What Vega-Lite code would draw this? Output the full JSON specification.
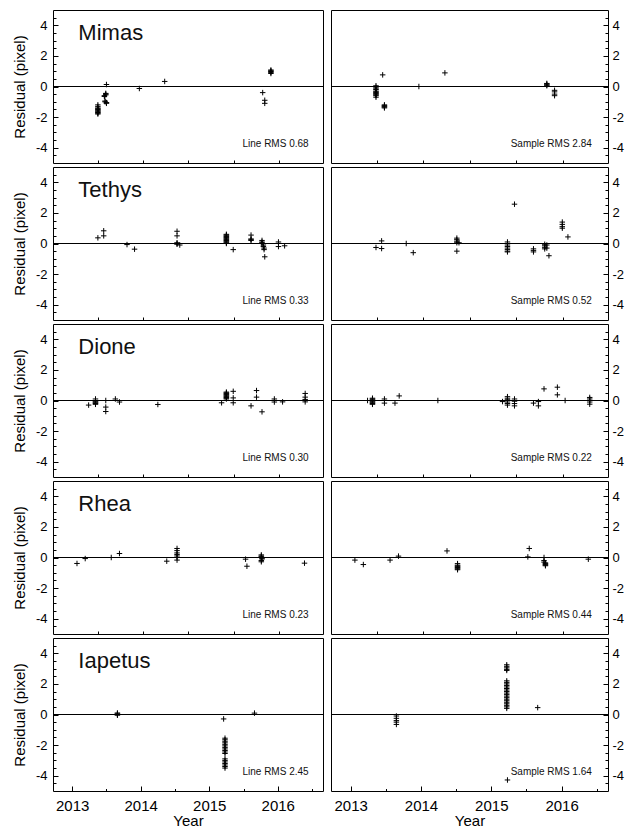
{
"$schema": "https://vega.github.io/schema/vega-lite/v6.json",
"padding": {"left": 11, "top": 9, "right": 5, "bottom": 0},
"columns": 2,
"spacing": {"row": 2, "column": 6},
"align": "each",
"datasets": {
"pts": [
{"p":"MiL","x":2013.375,"y":-1.2},{"p":"MiL","x":2013.375,"y":-1.3},{"p":"MiL","x":2013.375,"y":-1.4},{"p":"MiL","x":2013.375,"y":-1.45},{"p":"MiL","x":2013.375,"y":-1.5},{"p":"MiL","x":2013.375,"y":-1.55},{"p":"MiL","x":2013.375,"y":-1.6},{"p":"MiL","x":2013.375,"y":-1.65},{"p":"MiL","x":2013.375,"y":-1.7},{"p":"MiL","x":2013.375,"y":-1.75},{"p":"MiL","x":2013.375,"y":-1.8},
{"p":"MiL","x":2013.5,"y":0.13},{"p":"MiL","x":2013.47,"y":-0.6},{"p":"MiL","x":2013.47,"y":-0.65},{"p":"MiL","x":2013.49,"y":-0.45},{"p":"MiL","x":2013.49,"y":-0.5},{"p":"MiL","x":2013.49,"y":-0.55},{"p":"MiL","x":2013.48,"y":-0.95},{"p":"MiL","x":2013.48,"y":-1.0},{"p":"MiL","x":2013.5,"y":-1.05},{"p":"MiL","x":2013.5,"y":-1.1},
{"p":"MiL","x":2013.98,"y":-0.13},{"p":"MiL","x":2014.35,"y":0.33},{"p":"MiL","x":2015.78,"y":-0.4},{"p":"MiL","x":2015.81,"y":-0.9},{"p":"MiL","x":2015.81,"y":-1.1},
{"p":"MiL","x":2015.9,"y":0.85},{"p":"MiL","x":2015.9,"y":0.92},{"p":"MiL","x":2015.9,"y":0.98},{"p":"MiL","x":2015.9,"y":1.03},{"p":"MiL","x":2015.9,"y":1.08},

{"p":"MiS","x":2013.36,"y":0.05},{"p":"MiS","x":2013.36,"y":-0.05},{"p":"MiS","x":2013.36,"y":-0.15},{"p":"MiS","x":2013.36,"y":-0.2},{"p":"MiS","x":2013.36,"y":-0.3},{"p":"MiS","x":2013.36,"y":-0.35},{"p":"MiS","x":2013.36,"y":-0.4},{"p":"MiS","x":2013.36,"y":-0.45},{"p":"MiS","x":2013.36,"y":-0.5},{"p":"MiS","x":2013.36,"y":-0.55},{"p":"MiS","x":2013.36,"y":-0.6},{"p":"MiS","x":2013.36,"y":-0.7},
{"p":"MiS","x":2013.455,"y":0.76},{"p":"MiS","x":2013.48,"y":-1.2},{"p":"MiS","x":2013.48,"y":-1.25},{"p":"MiS","x":2013.48,"y":-1.3},{"p":"MiS","x":2013.48,"y":-1.35},{"p":"MiS","x":2013.48,"y":-1.4},
{"p":"MiS","x":2013.97,"y":0},{"p":"MiS","x":2014.34,"y":0.89},{"p":"MiS","x":2015.79,"y":0.05},{"p":"MiS","x":2015.79,"y":0.1},{"p":"MiS","x":2015.79,"y":0.15},{"p":"MiS","x":2015.79,"y":0.2},
{"p":"MiS","x":2015.9,"y":-0.25},{"p":"MiS","x":2015.9,"y":-0.35},{"p":"MiS","x":2015.9,"y":-0.5},{"p":"MiS","x":2015.9,"y":-0.6},

{"p":"TeL","x":2013.375,"y":0.37},{"p":"TeL","x":2013.46,"y":0.83},{"p":"TeL","x":2013.46,"y":0.5},{"p":"TeL","x":2013.8,"y":-0.07},{"p":"TeL","x":2013.91,"y":-0.37},
{"p":"TeL","x":2014.53,"y":0.8},{"p":"TeL","x":2014.53,"y":0.5},{"p":"TeL","x":2014.53,"y":0.05},{"p":"TeL","x":2014.53,"y":0},{"p":"TeL","x":2014.53,"y":-0.05},{"p":"TeL","x":2014.57,"y":-0.1},
{"p":"TeL","x":2015.25,"y":0.6},{"p":"TeL","x":2015.25,"y":0.55},{"p":"TeL","x":2015.25,"y":0.5},{"p":"TeL","x":2015.25,"y":0.45},{"p":"TeL","x":2015.25,"y":0.4},{"p":"TeL","x":2015.25,"y":0.35},{"p":"TeL","x":2015.25,"y":0.3},{"p":"TeL","x":2015.25,"y":0.25},{"p":"TeL","x":2015.25,"y":0.2},{"p":"TeL","x":2015.25,"y":0.15},{"p":"TeL","x":2015.25,"y":0.1},{"p":"TeL","x":2015.25,"y":0.05},{"p":"TeL","x":2015.25,"y":0},
{"p":"TeL","x":2015.35,"y":-0.4},{"p":"TeL","x":2015.61,"y":0.55},{"p":"TeL","x":2015.61,"y":0.3},{"p":"TeL","x":2015.61,"y":0.2},{"p":"TeL","x":2015.61,"y":0.25},
{"p":"TeL","x":2015.77,"y":0.2},{"p":"TeL","x":2015.77,"y":0.1},{"p":"TeL","x":2015.77,"y":0.05},{"p":"TeL","x":2015.77,"y":0},{"p":"TeL","x":2015.79,"y":-0.1},{"p":"TeL","x":2015.79,"y":-0.2},{"p":"TeL","x":2015.8,"y":-0.3},{"p":"TeL","x":2015.8,"y":-0.4},{"p":"TeL","x":2015.81,"y":-0.87},
{"p":"TeL","x":2016.01,"y":0.1},{"p":"TeL","x":2016.01,"y":-0.2},{"p":"TeL","x":2016.1,"y":-0.15},

{"p":"TeS","x":2013.36,"y":-0.26},{"p":"TeS","x":2013.44,"y":0.17},{"p":"TeS","x":2013.44,"y":-0.33},{"p":"TeS","x":2013.79,"y":0},{"p":"TeS","x":2013.89,"y":-0.6},
{"p":"TeS","x":2014.51,"y":0.35},{"p":"TeS","x":2014.51,"y":0.25},{"p":"TeS","x":2014.51,"y":0.15},{"p":"TeS","x":2014.51,"y":0.05},{"p":"TeS","x":2014.51,"y":-0.5},{"p":"TeS","x":2014.54,"y":0.05},
{"p":"TeS","x":2015.23,"y":0.1},{"p":"TeS","x":2015.23,"y":0},{"p":"TeS","x":2015.23,"y":-0.1},{"p":"TeS","x":2015.23,"y":-0.2},{"p":"TeS","x":2015.23,"y":-0.3},{"p":"TeS","x":2015.23,"y":-0.4},{"p":"TeS","x":2015.23,"y":-0.5},{"p":"TeS","x":2015.23,"y":-0.55},
{"p":"TeS","x":2015.33,"y":2.57},{"p":"TeS","x":2015.6,"y":-0.35},{"p":"TeS","x":2015.6,"y":-0.45},{"p":"TeS","x":2015.6,"y":-0.55},
{"p":"TeS","x":2015.76,"y":-0.05},{"p":"TeS","x":2015.76,"y":-0.15},{"p":"TeS","x":2015.76,"y":-0.25},{"p":"TeS","x":2015.76,"y":-0.35},{"p":"TeS","x":2015.79,"y":-0.1},{"p":"TeS","x":2015.79,"y":-0.3},{"p":"TeS","x":2015.82,"y":-0.8},
{"p":"TeS","x":2016.01,"y":1.4},{"p":"TeS","x":2016.01,"y":1.25},{"p":"TeS","x":2016.01,"y":1.1},{"p":"TeS","x":2016.01,"y":1.0},{"p":"TeS","x":2016.09,"y":0.43},

{"p":"DiL","x":2013.24,"y":-0.3},{"p":"DiL","x":2013.34,"y":0.1},{"p":"DiL","x":2013.34,"y":0},{"p":"DiL","x":2013.34,"y":-0.05},{"p":"DiL","x":2013.34,"y":-0.1},{"p":"DiL","x":2013.34,"y":-0.15},{"p":"DiL","x":2013.34,"y":-0.2},{"p":"DiL","x":2013.34,"y":-0.25},
{"p":"DiL","x":2013.49,"y":0},{"p":"DiL","x":2013.49,"y":-0.43},{"p":"DiL","x":2013.49,"y":-0.72},{"p":"DiL","x":2013.63,"y":0.1},{"p":"DiL","x":2013.69,"y":-0.1},{"p":"DiL","x":2014.25,"y":-0.26},{"p":"DiL","x":2015.18,"y":-0.15},
{"p":"DiL","x":2015.25,"y":0.55},{"p":"DiL","x":2015.25,"y":0.5},{"p":"DiL","x":2015.25,"y":0.45},{"p":"DiL","x":2015.25,"y":0.4},{"p":"DiL","x":2015.25,"y":0.35},{"p":"DiL","x":2015.25,"y":0.3},{"p":"DiL","x":2015.25,"y":0.25},{"p":"DiL","x":2015.25,"y":0.2},{"p":"DiL","x":2015.25,"y":0.15},{"p":"DiL","x":2015.25,"y":0.1},
{"p":"DiL","x":2015.35,"y":0.6},{"p":"DiL","x":2015.35,"y":0.17},{"p":"DiL","x":2015.35,"y":-0.15},{"p":"DiL","x":2015.61,"y":-0.35},{"p":"DiL","x":2015.69,"y":0.65},{"p":"DiL","x":2015.69,"y":0.22},{"p":"DiL","x":2015.77,"y":-0.74},
{"p":"DiL","x":2015.95,"y":0.1},{"p":"DiL","x":2015.95,"y":-0.1},{"p":"DiL","x":2016.07,"y":-0.09},{"p":"DiL","x":2016.4,"y":0.46},{"p":"DiL","x":2016.4,"y":0.22},{"p":"DiL","x":2016.4,"y":0.07},{"p":"DiL","x":2016.4,"y":-0.09},

{"p":"DiS","x":2013.24,"y":0},{"p":"DiS","x":2013.31,"y":0.15},{"p":"DiS","x":2013.31,"y":0.1},{"p":"DiS","x":2013.31,"y":0.05},{"p":"DiS","x":2013.31,"y":0},{"p":"DiS","x":2013.31,"y":-0.05},{"p":"DiS","x":2013.31,"y":-0.1},{"p":"DiS","x":2013.31,"y":-0.15},{"p":"DiS","x":2013.31,"y":-0.2},{"p":"DiS","x":2013.31,"y":-0.25},
{"p":"DiS","x":2013.48,"y":0.1},{"p":"DiS","x":2013.48,"y":-0.17},{"p":"DiS","x":2013.63,"y":-0.17},{"p":"DiS","x":2013.69,"y":0.3},{"p":"DiS","x":2014.24,"y":0},{"p":"DiS","x":2015.16,"y":-0.07},
{"p":"DiS","x":2015.23,"y":0.25},{"p":"DiS","x":2015.23,"y":0.15},{"p":"DiS","x":2015.23,"y":0.05},{"p":"DiS","x":2015.23,"y":0},{"p":"DiS","x":2015.23,"y":-0.1},{"p":"DiS","x":2015.23,"y":-0.2},{"p":"DiS","x":2015.23,"y":-0.3},
{"p":"DiS","x":2015.33,"y":0.1},{"p":"DiS","x":2015.33,"y":-0.05},{"p":"DiS","x":2015.33,"y":-0.2},{"p":"DiS","x":2015.33,"y":-0.35},{"p":"DiS","x":2015.6,"y":-0.17},{"p":"DiS","x":2015.67,"y":-0.07},{"p":"DiS","x":2015.67,"y":-0.35},
{"p":"DiS","x":2015.75,"y":0.76},{"p":"DiS","x":2015.94,"y":0.87},{"p":"DiS","x":2015.94,"y":0.37},{"p":"DiS","x":2016.05,"y":0},
{"p":"DiS","x":2016.4,"y":0.2},{"p":"DiS","x":2016.4,"y":0.1},{"p":"DiS","x":2016.4,"y":0},{"p":"DiS","x":2016.4,"y":-0.1},{"p":"DiS","x":2016.4,"y":-0.24},

{"p":"RhL","x":2013.07,"y":-0.39},{"p":"RhL","x":2013.19,"y":-0.07},{"p":"RhL","x":2013.57,"y":0},{"p":"RhL","x":2013.69,"y":0.26},{"p":"RhL","x":2014.38,"y":-0.24},
{"p":"RhL","x":2014.53,"y":0.59},{"p":"RhL","x":2014.53,"y":0.45},{"p":"RhL","x":2014.53,"y":0.3},{"p":"RhL","x":2014.53,"y":0.2},{"p":"RhL","x":2014.53,"y":0.1},{"p":"RhL","x":2014.53,"y":0},{"p":"RhL","x":2014.53,"y":-0.17},
{"p":"RhL","x":2015.53,"y":-0.11},{"p":"RhL","x":2015.55,"y":-0.57},
{"p":"RhL","x":2015.76,"y":0.17},{"p":"RhL","x":2015.76,"y":0.1},{"p":"RhL","x":2015.76,"y":0.05},{"p":"RhL","x":2015.76,"y":0},{"p":"RhL","x":2015.77,"y":-0.05},{"p":"RhL","x":2015.77,"y":-0.1},{"p":"RhL","x":2015.76,"y":-0.2},{"p":"RhL","x":2015.76,"y":-0.28},
{"p":"RhL","x":2016.39,"y":-0.37},

{"p":"RhS","x":2013.06,"y":-0.17},{"p":"RhS","x":2013.18,"y":-0.46},{"p":"RhS","x":2013.56,"y":-0.17},{"p":"RhS","x":2013.68,"y":0.09},{"p":"RhS","x":2014.37,"y":0.43},
{"p":"RhS","x":2014.52,"y":-0.4},{"p":"RhS","x":2014.52,"y":-0.5},{"p":"RhS","x":2014.52,"y":-0.55},{"p":"RhS","x":2014.52,"y":-0.6},{"p":"RhS","x":2014.52,"y":-0.65},{"p":"RhS","x":2014.52,"y":-0.7},{"p":"RhS","x":2014.52,"y":-0.75},{"p":"RhS","x":2014.52,"y":-0.8},
{"p":"RhS","x":2015.52,"y":0.04},{"p":"RhS","x":2015.54,"y":0.59},
{"p":"RhS","x":2015.75,"y":0},{"p":"RhS","x":2015.75,"y":-0.2},{"p":"RhS","x":2015.75,"y":-0.3},{"p":"RhS","x":2015.77,"y":-0.35},{"p":"RhS","x":2015.77,"y":-0.4},{"p":"RhS","x":2015.77,"y":-0.45},{"p":"RhS","x":2015.77,"y":-0.5},{"p":"RhS","x":2015.77,"y":-0.54},
{"p":"RhS","x":2016.38,"y":-0.11},

{"p":"IaL","x":2013.66,"y":0.1},{"p":"IaL","x":2013.66,"y":0.05},{"p":"IaL","x":2013.66,"y":0},{"p":"IaL","x":2013.66,"y":-0.05},{"p":"IaL","x":2015.21,"y":-0.29},
{"p":"IaL","x":2015.23,"y":-1.55},{"p":"IaL","x":2015.23,"y":-1.65},{"p":"IaL","x":2015.23,"y":-1.75},{"p":"IaL","x":2015.23,"y":-1.85},{"p":"IaL","x":2015.23,"y":-1.95},{"p":"IaL","x":2015.23,"y":-2.05},{"p":"IaL","x":2015.23,"y":-2.15},{"p":"IaL","x":2015.23,"y":-2.25},{"p":"IaL","x":2015.23,"y":-2.35},{"p":"IaL","x":2015.23,"y":-2.45},{"p":"IaL","x":2015.23,"y":-2.55},
{"p":"IaL","x":2015.23,"y":-2.9},{"p":"IaL","x":2015.23,"y":-3.0},{"p":"IaL","x":2015.23,"y":-3.1},{"p":"IaL","x":2015.23,"y":-3.2},{"p":"IaL","x":2015.23,"y":-3.3},{"p":"IaL","x":2015.23,"y":-3.4},{"p":"IaL","x":2015.23,"y":-3.5},
{"p":"IaL","x":2015.66,"y":0.09},

{"p":"IaS","x":2013.65,"y":-0.1},{"p":"IaS","x":2013.65,"y":-0.25},{"p":"IaS","x":2013.65,"y":-0.4},{"p":"IaS","x":2013.65,"y":-0.5},{"p":"IaS","x":2013.65,"y":-0.65},
{"p":"IaS","x":2015.22,"y":3.25},{"p":"IaS","x":2015.22,"y":3.15},{"p":"IaS","x":2015.22,"y":3.05},{"p":"IaS","x":2015.22,"y":2.95},{"p":"IaS","x":2015.22,"y":2.88},
{"p":"IaS","x":2015.22,"y":2.2},{"p":"IaS","x":2015.22,"y":2.1},{"p":"IaS","x":2015.22,"y":2.0},{"p":"IaS","x":2015.22,"y":1.9},{"p":"IaS","x":2015.22,"y":1.8},{"p":"IaS","x":2015.22,"y":1.7},{"p":"IaS","x":2015.22,"y":1.6},{"p":"IaS","x":2015.22,"y":1.5},{"p":"IaS","x":2015.22,"y":1.4},{"p":"IaS","x":2015.22,"y":1.3},{"p":"IaS","x":2015.22,"y":1.2},{"p":"IaS","x":2015.22,"y":1.1},{"p":"IaS","x":2015.22,"y":1.0},{"p":"IaS","x":2015.22,"y":0.9},{"p":"IaS","x":2015.22,"y":0.8},{"p":"IaS","x":2015.22,"y":0.7},{"p":"IaS","x":2015.22,"y":0.6},{"p":"IaS","x":2015.22,"y":0.5},{"p":"IaS","x":2015.22,"y":0.4},
{"p":"IaS","x":2015.66,"y":0.45},{"p":"IaS","x":2015.23,"y":-4.28}
]
},
"concat": [
{"width": 270, "height": 153,
 "layer": [
  {"data": {"values": [{"z": 0}]}, "mark": {"type": "rule", "color": "black", "strokeWidth": 1},
   "encoding": {"y": {"field": "z", "type": "quantitative", "scale": {"domain": [-5, 5], "nice": false}, "axis": {"orient": "left", "values": [-4.5,-3.5,-3,-2.5,-1.5,-1,-0.5,0.5,1,1.5,2.5,3,3.5,4.5], "tickSize": -3, "labels": false, "title": null}}}},
  {"data": {"name": "pts"}, "transform": [{"filter": "datum.p === 'MiL'"}],
   "mark": {"type": "point", "shape": "M-1,0L1,0M0,-1L0,1", "size": 30, "strokeWidth": 1, "color": "black", "opacity": 1, "filled": false},
   "encoding": {"x": {"field": "x", "type": "quantitative", "scale": {"domain": [2012.72, 2016.66], "nice": false, "zero": false}, "axis": {"orient": "bottom", "values": [2013.375, 2014.035, 2014.695, 2015.355, 2016.015], "tickSize": -3, "labels": false, "title": null}},
    "y": {"field": "y", "type": "quantitative", "scale": {"domain": [-5, 5], "nice": false}, "axis": {"orient": "left", "values": [-4, -2, 0, 2, 4], "tickSize": -5, "labelPadding": 11, "labelFontSize": 13, "labelExpr": "datum.value < 0 ? '-' + abs(datum.value) : '' + datum.value", "title": "Residual (pixel)", "titleFontSize": 15, "titleFontWeight": "normal", "titlePadding": 8}}}},
  {"data": {"values": [{"t": "Mimas"}]}, "mark": {"type": "text", "align": "left", "baseline": "middle", "fontSize": 22},
   "encoding": {"x": {"datum": 2013.09, "type": "quantitative", "axis": null}, "y": {"datum": 3.5, "type": "quantitative", "axis": null}, "text": {"field": "t"}}},
  {"data": {"values": [{"t": "Line RMS 0.68"}]}, "mark": {"type": "text", "align": "right", "baseline": "middle", "fontSize": 10},
   "encoding": {"x": {"datum": 2016.45, "type": "quantitative", "axis": null}, "y": {"datum": -3.75, "type": "quantitative", "axis": null}, "text": {"field": "t"}}}
 ],
 "resolve": {"axis": {"x": "independent", "y": "independent"}}
},
{"width": 277, "height": 153,
 "layer": [
  {"data": {"values": [{"z": 0}]}, "mark": {"type": "rule", "color": "black", "strokeWidth": 1},
   "encoding": {"y": {"field": "z", "type": "quantitative", "scale": {"domain": [-5, 5], "nice": false}, "axis": {"orient": "right", "values": [-4.5,-3.5,-3,-2.5,-1.5,-1,-0.5,0.5,1,1.5,2.5,3,3.5,4.5], "tickSize": -3, "labels": false, "title": null}}}},
  {"data": {"name": "pts"}, "transform": [{"filter": "datum.p === 'MiS'"}],
   "mark": {"type": "point", "shape": "M-1,0L1,0M0,-1L0,1", "size": 30, "strokeWidth": 1, "color": "black", "opacity": 1, "filled": false},
   "encoding": {"x": {"field": "x", "type": "quantitative", "scale": {"domain": [2012.72, 2016.66], "nice": false, "zero": false}, "axis": {"orient": "bottom", "values": [2013.375, 2014.035, 2014.695, 2015.355, 2016.015], "tickSize": -3, "labels": false, "title": null}},
    "y": {"field": "y", "type": "quantitative", "scale": {"domain": [-5, 5], "nice": false}, "axis": {"orient": "right", "values": [-4, -2, 0, 2, 4], "tickSize": -5, "labelPadding": 9, "labelFontSize": 13, "labelExpr": "datum.value < 0 ? '-' + abs(datum.value) : '' + datum.value", "title": null}}}},
  {"data": {"values": [{"t": "Sample RMS 2.84"}]}, "mark": {"type": "text", "align": "right", "baseline": "middle", "fontSize": 10},
   "encoding": {"x": {"datum": 2016.43, "type": "quantitative", "axis": null}, "y": {"datum": -3.75, "type": "quantitative", "axis": null}, "text": {"field": "t"}}}
 ],
 "resolve": {"axis": {"x": "independent", "y": "independent"}}
},
{"width": 270, "height": 153,
 "layer": [
  {"data": {"values": [{"z": 0}]}, "mark": {"type": "rule", "color": "black", "strokeWidth": 1},
   "encoding": {"y": {"field": "z", "type": "quantitative", "scale": {"domain": [-5, 5], "nice": false}, "axis": {"orient": "left", "values": [-4.5,-3.5,-3,-2.5,-1.5,-1,-0.5,0.5,1,1.5,2.5,3,3.5,4.5], "tickSize": -3, "labels": false, "title": null}}}},
  {"data": {"name": "pts"}, "transform": [{"filter": "datum.p === 'TeL'"}],
   "mark": {"type": "point", "shape": "M-1,0L1,0M0,-1L0,1", "size": 30, "strokeWidth": 1, "color": "black", "opacity": 1, "filled": false},
   "encoding": {"x": {"field": "x", "type": "quantitative", "scale": {"domain": [2012.72, 2016.66], "nice": false, "zero": false}, "axis": {"orient": "bottom", "values": [2013.375, 2014.035, 2014.695, 2015.355, 2016.015], "tickSize": -3, "labels": false, "title": null}},
    "y": {"field": "y", "type": "quantitative", "scale": {"domain": [-5, 5], "nice": false}, "axis": {"orient": "left", "values": [-4, -2, 0, 2, 4], "tickSize": -5, "labelPadding": 11, "labelFontSize": 13, "labelExpr": "datum.value < 0 ? '-' + abs(datum.value) : '' + datum.value", "title": "Residual (pixel)", "titleFontSize": 15, "titleFontWeight": "normal", "titlePadding": 8}}}},
  {"data": {"values": [{"t": "Tethys"}]}, "mark": {"type": "text", "align": "left", "baseline": "middle", "fontSize": 22},
   "encoding": {"x": {"datum": 2013.09, "type": "quantitative", "axis": null}, "y": {"datum": 3.5, "type": "quantitative", "axis": null}, "text": {"field": "t"}}},
  {"data": {"values": [{"t": "Line RMS 0.33"}]}, "mark": {"type": "text", "align": "right", "baseline": "middle", "fontSize": 10},
   "encoding": {"x": {"datum": 2016.45, "type": "quantitative", "axis": null}, "y": {"datum": -3.75, "type": "quantitative", "axis": null}, "text": {"field": "t"}}}
 ],
 "resolve": {"axis": {"x": "independent", "y": "independent"}}
},
{"width": 277, "height": 153,
 "layer": [
  {"data": {"values": [{"z": 0}]}, "mark": {"type": "rule", "color": "black", "strokeWidth": 1},
   "encoding": {"y": {"field": "z", "type": "quantitative", "scale": {"domain": [-5, 5], "nice": false}, "axis": {"orient": "right", "values": [-4.5,-3.5,-3,-2.5,-1.5,-1,-0.5,0.5,1,1.5,2.5,3,3.5,4.5], "tickSize": -3, "labels": false, "title": null}}}},
  {"data": {"name": "pts"}, "transform": [{"filter": "datum.p === 'TeS'"}],
   "mark": {"type": "point", "shape": "M-1,0L1,0M0,-1L0,1", "size": 30, "strokeWidth": 1, "color": "black", "opacity": 1, "filled": false},
   "encoding": {"x": {"field": "x", "type": "quantitative", "scale": {"domain": [2012.72, 2016.66], "nice": false, "zero": false}, "axis": {"orient": "bottom", "values": [2013.375, 2014.035, 2014.695, 2015.355, 2016.015], "tickSize": -3, "labels": false, "title": null}},
    "y": {"field": "y", "type": "quantitative", "scale": {"domain": [-5, 5], "nice": false}, "axis": {"orient": "right", "values": [-4, -2, 0, 2, 4], "tickSize": -5, "labelPadding": 9, "labelFontSize": 13, "labelExpr": "datum.value < 0 ? '-' + abs(datum.value) : '' + datum.value", "title": null}}}},
  {"data": {"values": [{"t": "Sample RMS 0.52"}]}, "mark": {"type": "text", "align": "right", "baseline": "middle", "fontSize": 10},
   "encoding": {"x": {"datum": 2016.43, "type": "quantitative", "axis": null}, "y": {"datum": -3.75, "type": "quantitative", "axis": null}, "text": {"field": "t"}}}
 ],
 "resolve": {"axis": {"x": "independent", "y": "independent"}}
},
{"width": 270, "height": 153,
 "layer": [
  {"data": {"values": [{"z": 0}]}, "mark": {"type": "rule", "color": "black", "strokeWidth": 1},
   "encoding": {"y": {"field": "z", "type": "quantitative", "scale": {"domain": [-5, 5], "nice": false}, "axis": {"orient": "left", "values": [-4.5,-3.5,-3,-2.5,-1.5,-1,-0.5,0.5,1,1.5,2.5,3,3.5,4.5], "tickSize": -3, "labels": false, "title": null}}}},
  {"data": {"name": "pts"}, "transform": [{"filter": "datum.p === 'DiL'"}],
   "mark": {"type": "point", "shape": "M-1,0L1,0M0,-1L0,1", "size": 30, "strokeWidth": 1, "color": "black", "opacity": 1, "filled": false},
   "encoding": {"x": {"field": "x", "type": "quantitative", "scale": {"domain": [2012.72, 2016.66], "nice": false, "zero": false}, "axis": {"orient": "bottom", "values": [2013.375, 2014.035, 2014.695, 2015.355, 2016.015], "tickSize": -3, "labels": false, "title": null}},
    "y": {"field": "y", "type": "quantitative", "scale": {"domain": [-5, 5], "nice": false}, "axis": {"orient": "left", "values": [-4, -2, 0, 2, 4], "tickSize": -5, "labelPadding": 11, "labelFontSize": 13, "labelExpr": "datum.value < 0 ? '-' + abs(datum.value) : '' + datum.value", "title": "Residual (pixel)", "titleFontSize": 15, "titleFontWeight": "normal", "titlePadding": 8}}}},
  {"data": {"values": [{"t": "Dione"}]}, "mark": {"type": "text", "align": "left", "baseline": "middle", "fontSize": 22},
   "encoding": {"x": {"datum": 2013.09, "type": "quantitative", "axis": null}, "y": {"datum": 3.5, "type": "quantitative", "axis": null}, "text": {"field": "t"}}},
  {"data": {"values": [{"t": "Line RMS 0.30"}]}, "mark": {"type": "text", "align": "right", "baseline": "middle", "fontSize": 10},
   "encoding": {"x": {"datum": 2016.45, "type": "quantitative", "axis": null}, "y": {"datum": -3.75, "type": "quantitative", "axis": null}, "text": {"field": "t"}}}
 ],
 "resolve": {"axis": {"x": "independent", "y": "independent"}}
},
{"width": 277, "height": 153,
 "layer": [
  {"data": {"values": [{"z": 0}]}, "mark": {"type": "rule", "color": "black", "strokeWidth": 1},
   "encoding": {"y": {"field": "z", "type": "quantitative", "scale": {"domain": [-5, 5], "nice": false}, "axis": {"orient": "right", "values": [-4.5,-3.5,-3,-2.5,-1.5,-1,-0.5,0.5,1,1.5,2.5,3,3.5,4.5], "tickSize": -3, "labels": false, "title": null}}}},
  {"data": {"name": "pts"}, "transform": [{"filter": "datum.p === 'DiS'"}],
   "mark": {"type": "point", "shape": "M-1,0L1,0M0,-1L0,1", "size": 30, "strokeWidth": 1, "color": "black", "opacity": 1, "filled": false},
   "encoding": {"x": {"field": "x", "type": "quantitative", "scale": {"domain": [2012.72, 2016.66], "nice": false, "zero": false}, "axis": {"orient": "bottom", "values": [2013.375, 2014.035, 2014.695, 2015.355, 2016.015], "tickSize": -3, "labels": false, "title": null}},
    "y": {"field": "y", "type": "quantitative", "scale": {"domain": [-5, 5], "nice": false}, "axis": {"orient": "right", "values": [-4, -2, 0, 2, 4], "tickSize": -5, "labelPadding": 9, "labelFontSize": 13, "labelExpr": "datum.value < 0 ? '-' + abs(datum.value) : '' + datum.value", "title": null}}}},
  {"data": {"values": [{"t": "Sample RMS 0.22"}]}, "mark": {"type": "text", "align": "right", "baseline": "middle", "fontSize": 10},
   "encoding": {"x": {"datum": 2016.43, "type": "quantitative", "axis": null}, "y": {"datum": -3.75, "type": "quantitative", "axis": null}, "text": {"field": "t"}}}
 ],
 "resolve": {"axis": {"x": "independent", "y": "independent"}}
},
{"width": 270, "height": 153,
 "layer": [
  {"data": {"values": [{"z": 0}]}, "mark": {"type": "rule", "color": "black", "strokeWidth": 1},
   "encoding": {"y": {"field": "z", "type": "quantitative", "scale": {"domain": [-5, 5], "nice": false}, "axis": {"orient": "left", "values": [-4.5,-3.5,-3,-2.5,-1.5,-1,-0.5,0.5,1,1.5,2.5,3,3.5,4.5], "tickSize": -3, "labels": false, "title": null}}}},
  {"data": {"name": "pts"}, "transform": [{"filter": "datum.p === 'RhL'"}],
   "mark": {"type": "point", "shape": "M-1,0L1,0M0,-1L0,1", "size": 30, "strokeWidth": 1, "color": "black", "opacity": 1, "filled": false},
   "encoding": {"x": {"field": "x", "type": "quantitative", "scale": {"domain": [2012.72, 2016.66], "nice": false, "zero": false}, "axis": {"orient": "bottom", "values": [2013.375, 2014.035, 2014.695, 2015.355, 2016.015], "tickSize": -3, "labels": false, "title": null}},
    "y": {"field": "y", "type": "quantitative", "scale": {"domain": [-5, 5], "nice": false}, "axis": {"orient": "left", "values": [-4, -2, 0, 2, 4], "tickSize": -5, "labelPadding": 11, "labelFontSize": 13, "labelExpr": "datum.value < 0 ? '-' + abs(datum.value) : '' + datum.value", "title": "Residual (pixel)", "titleFontSize": 15, "titleFontWeight": "normal", "titlePadding": 8}}}},
  {"data": {"values": [{"t": "Rhea"}]}, "mark": {"type": "text", "align": "left", "baseline": "middle", "fontSize": 22},
   "encoding": {"x": {"datum": 2013.09, "type": "quantitative", "axis": null}, "y": {"datum": 3.5, "type": "quantitative", "axis": null}, "text": {"field": "t"}}},
  {"data": {"values": [{"t": "Line RMS 0.23"}]}, "mark": {"type": "text", "align": "right", "baseline": "middle", "fontSize": 10},
   "encoding": {"x": {"datum": 2016.45, "type": "quantitative", "axis": null}, "y": {"datum": -3.75, "type": "quantitative", "axis": null}, "text": {"field": "t"}}}
 ],
 "resolve": {"axis": {"x": "independent", "y": "independent"}}
},
{"width": 277, "height": 153,
 "layer": [
  {"data": {"values": [{"z": 0}]}, "mark": {"type": "rule", "color": "black", "strokeWidth": 1},
   "encoding": {"y": {"field": "z", "type": "quantitative", "scale": {"domain": [-5, 5], "nice": false}, "axis": {"orient": "right", "values": [-4.5,-3.5,-3,-2.5,-1.5,-1,-0.5,0.5,1,1.5,2.5,3,3.5,4.5], "tickSize": -3, "labels": false, "title": null}}}},
  {"data": {"name": "pts"}, "transform": [{"filter": "datum.p === 'RhS'"}],
   "mark": {"type": "point", "shape": "M-1,0L1,0M0,-1L0,1", "size": 30, "strokeWidth": 1, "color": "black", "opacity": 1, "filled": false},
   "encoding": {"x": {"field": "x", "type": "quantitative", "scale": {"domain": [2012.72, 2016.66], "nice": false, "zero": false}, "axis": {"orient": "bottom", "values": [2013.375, 2014.035, 2014.695, 2015.355, 2016.015], "tickSize": -3, "labels": false, "title": null}},
    "y": {"field": "y", "type": "quantitative", "scale": {"domain": [-5, 5], "nice": false}, "axis": {"orient": "right", "values": [-4, -2, 0, 2, 4], "tickSize": -5, "labelPadding": 9, "labelFontSize": 13, "labelExpr": "datum.value < 0 ? '-' + abs(datum.value) : '' + datum.value", "title": null}}}},
  {"data": {"values": [{"t": "Sample RMS 0.44"}]}, "mark": {"type": "text", "align": "right", "baseline": "middle", "fontSize": 10},
   "encoding": {"x": {"datum": 2016.43, "type": "quantitative", "axis": null}, "y": {"datum": -3.75, "type": "quantitative", "axis": null}, "text": {"field": "t"}}}
 ],
 "resolve": {"axis": {"x": "independent", "y": "independent"}}
},
{"width": 270, "height": 153,
 "layer": [
  {"data": {"values": [{"z": 0}]}, "mark": {"type": "rule", "color": "black", "strokeWidth": 1},
   "encoding": {"y": {"field": "z", "type": "quantitative", "scale": {"domain": [-5, 5], "nice": false}, "axis": {"orient": "left", "values": [-4.5,-3.5,-3,-2.5,-1.5,-1,-0.5,0.5,1,1.5,2.5,3,3.5,4.5], "tickSize": -3, "labels": false, "title": null}}}},
  {"data": {"name": "pts"}, "transform": [{"filter": "datum.p === 'IaL'"}],
   "mark": {"type": "point", "shape": "M-1,0L1,0M0,-1L0,1", "size": 30, "strokeWidth": 1, "color": "black", "opacity": 1, "filled": false},
   "encoding": {"x": {"field": "x", "type": "quantitative", "scale": {"domain": [2012.72, 2016.66], "nice": false, "zero": false}, "axis": {"orient": "bottom", "values": [2013, 2014, 2015, 2016], "format": "d", "tickSize": -5, "labelPadding": 12, "labelFontSize": 15, "title": "Year", "titleFontSize": 15, "titleFontWeight": "normal", "titlePadding": 0}},
    "y": {"field": "y", "type": "quantitative", "scale": {"domain": [-5, 5], "nice": false}, "axis": {"orient": "left", "values": [-4, -2, 0, 2, 4], "tickSize": -5, "labelPadding": 11, "labelFontSize": 13, "labelExpr": "datum.value < 0 ? '-' + abs(datum.value) : '' + datum.value", "title": "Residual (pixel)", "titleFontSize": 15, "titleFontWeight": "normal", "titlePadding": 8}}}},
  {"data": {"values": [{"t": "Iapetus"}]}, "mark": {"type": "text", "align": "left", "baseline": "middle", "fontSize": 22},
   "encoding": {"x": {"datum": 2013.09, "type": "quantitative", "axis": null}, "y": {"datum": 3.5, "type": "quantitative", "axis": null}, "text": {"field": "t"}}},
  {"data": {"values": [{"t": "Line RMS 2.45"}]}, "mark": {"type": "text", "align": "right", "baseline": "middle", "fontSize": 10},
   "encoding": {"x": {"datum": 2016.45, "type": "quantitative", "axis": {"orient": "bottom", "values": [2013.5, 2014.5, 2015.5, 2016.5], "tickSize": -2.5, "labels": false, "title": null}}, "y": {"datum": -3.75, "type": "quantitative", "axis": null}, "text": {"field": "t"}}}
 ],
 "resolve": {"axis": {"x": "independent", "y": "independent"}}
},
{"width": 277, "height": 153,
 "layer": [
  {"data": {"values": [{"z": 0}]}, "mark": {"type": "rule", "color": "black", "strokeWidth": 1},
   "encoding": {"y": {"field": "z", "type": "quantitative", "scale": {"domain": [-5, 5], "nice": false}, "axis": {"orient": "right", "values": [-4.5,-3.5,-3,-2.5,-1.5,-1,-0.5,0.5,1,1.5,2.5,3,3.5,4.5], "tickSize": -3, "labels": false, "title": null}}}},
  {"data": {"name": "pts"}, "transform": [{"filter": "datum.p === 'IaS'"}],
   "mark": {"type": "point", "shape": "M-1,0L1,0M0,-1L0,1", "size": 30, "strokeWidth": 1, "color": "black", "opacity": 1, "filled": false},
   "encoding": {"x": {"field": "x", "type": "quantitative", "scale": {"domain": [2012.72, 2016.66], "nice": false, "zero": false}, "axis": {"orient": "bottom", "values": [2013, 2014, 2015, 2016], "format": "d", "tickSize": -5, "labelPadding": 12, "labelFontSize": 15, "title": "Year", "titleFontSize": 15, "titleFontWeight": "normal", "titlePadding": 0}},
    "y": {"field": "y", "type": "quantitative", "scale": {"domain": [-5, 5], "nice": false}, "axis": {"orient": "right", "values": [-4, -2, 0, 2, 4], "tickSize": -5, "labelPadding": 9, "labelFontSize": 13, "labelExpr": "datum.value < 0 ? '-' + abs(datum.value) : '' + datum.value", "title": null}}}},
  {"data": {"values": [{"t": "Sample RMS 1.64"}]}, "mark": {"type": "text", "align": "right", "baseline": "middle", "fontSize": 10},
   "encoding": {"x": {"datum": 2016.43, "type": "quantitative", "axis": {"orient": "bottom", "values": [2013.5, 2014.5, 2015.5, 2016.5], "tickSize": -2.5, "labels": false, "title": null}}, "y": {"datum": -3.75, "type": "quantitative", "axis": null}, "text": {"field": "t"}}}
 ],
 "resolve": {"axis": {"x": "independent", "y": "independent"}}
}
],
"config": {
 "font": "Liberation Sans",
 "view": {"stroke": "black", "strokeWidth": 1},
 "axis": {"grid": false, "domain": false, "tickColor": "black", "tickWidth": 1, "labelColor": "black", "titleColor": "black", "labelFont": "Liberation Sans", "titleFont": "Liberation Sans"},
 "text": {"font": "Liberation Sans", "color": "#111"}
}
}
